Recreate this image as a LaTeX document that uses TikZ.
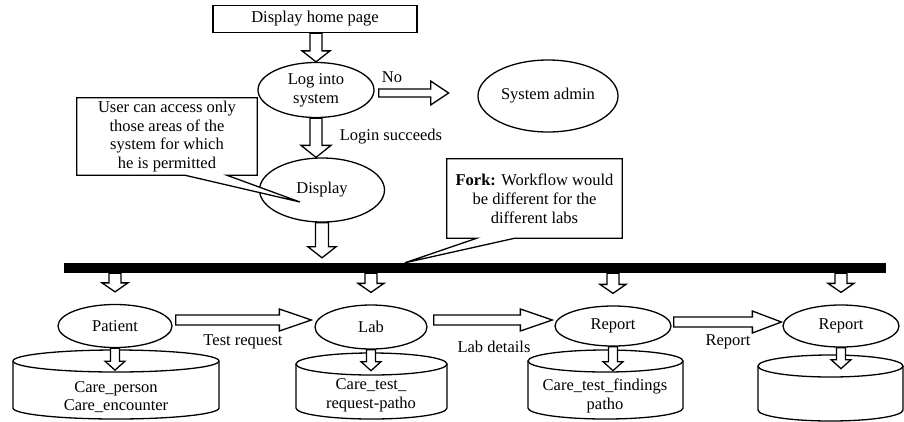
\documentclass[tikz,border=0pt]{standalone}
\usepackage{fontspec}
\setmainfont{Liberation Serif}
\usetikzlibrary{shapes.geometric,calc}

% hollow block arrows: start, tip, shaft half width, head half width, head length
\newcommand\blkdown[5]{%
  \draw[blockarrow] ($(#1)+(-#3,0)$) -- ($(#2)+(-#3,-#5)$) -- ($(#2)+(-#4,-#5)$) -- (#2)
    -- ($(#2)+(#4,-#5)$) -- ($(#2)+(#3,-#5)$) -- ($(#1)+(#3,0)$) -- cycle;}
\newcommand\blkright[5]{%
  \draw[blockarrow] ($(#1)+(0,-#3)$) -- ($(#2)+(-#5,-#3)$) -- ($(#2)+(-#5,-#4)$) -- (#2)
    -- ($(#2)+(-#5,#4)$) -- ($(#2)+(-#5,#3)$) -- ($(#1)+(0,#3)$) -- cycle;}
% data store drum: left, right, middle, top centre, bottom centre, x radius, y radius
\newcommand\drum[7]{%
  \draw[outline, fill=white] (#1,#4) -- (#1,#5)
    arc[start angle=180, end angle=360, x radius=#6pt, y radius=#7pt] -- (#2,#4);
  \draw[outline, fill=white] (#3,#4) ellipse[x radius=#6pt, y radius=#7pt];}

\tikzset{
  every node/.style={font=\fontsize{16.5}{18.8}\selectfont},
  outline/.style={line width=1.3pt, line join=miter},
  blockarrow/.style={outline, fill=white},
  oval/.style={outline, draw, fill=white, ellipse, inner sep=0pt, align=center},
  boxed/.style={outline, draw, fill=white, rectangle, inner sep=0pt, align=center},
  notebox/.style={fill=white, rectangle, inner sep=0pt, align=center},
  plain/.style={inner sep=0pt, align=center},
}

\begin{document}
\begin{tikzpicture}[x=1pt, y=-1pt]
\useasboundingbox[fill=white] (0,0) rectangle (904,421);

% data stores
\drum{13}{219}{116}{361}{408}{103}{11}
\drum{296}{447}{371.5}{364}{408}{75.5}{11}
\drum{528}{683}{605.5}{361}{408}{77.5}{11}
\drum{758}{903}{830.5}{366}{410}{72.5}{11}
\node[plain] (storeA) at (116,397) {Care\_person\\Care\_encounter};
\node[plain] (storeB) at (371,395) {Care\_test\_\\request-patho};
\node[plain] (storeC) at (605,396) {Care\_test\_findings\\patho};

% upper flow
\node[boxed, minimum width=204pt, minimum height=27pt] (home) at (315,19) {Display home page};
\node[oval, minimum width=116pt, minimum height=55pt] (login) at (316,90) {Log into\\system};
\node[oval, minimum width=140pt, minimum height=72pt] (admin) at (548,96) {System admin};
\node[oval, minimum width=125pt, minimum height=64pt] (display) at (322,190) {Display};

% fork bar
\node[fill=black, minimum width=822pt, minimum height=10pt, inner sep=0pt] (bar) at (475,268) {};

% lower flow
\node[oval, minimum width=114pt, minimum height=43pt] (patient) at (115,326) {Patient};
\node[oval, minimum width=112pt, minimum height=44pt] (lab) at (371,327) {Lab};
\node[oval, minimum width=116pt, minimum height=40pt] (repA) at (613,326) {Report};
\node[oval, minimum width=116pt, minimum height=42pt] (repB) at (841,326) {Report};

% labels
\node[plain] (lblNo) at (392,77) {No};
\node[plain] (lblLogin) at (391,137) {Login succeeds};
\node[plain] (lblTest) at (243,342) {Test request};
\node[plain] (lblLab) at (494,347) {Lab details};
\node[plain] (lblRep) at (728,342) {Report};

% arrows of the upper flow
\coordinate (t1) at (home.south -| login.north);
\blkdown{t1}{login.north}{6}{14}{11}
\coordinate (t2s) at (login.south);
\coordinate (t2e) at (login.south |- display.north);
\blkdown{t2s}{t2e}{6}{15}{12}
\coordinate (t3s) at (display.south);
\coordinate (t3e) at ($(display.south |- bar.north)+(0,-5)$);
\blkdown{t3s}{t3e}{6.5}{14}{11}
\coordinate (noS) at ($(login.east)+(4,3)$);
\coordinate (noE) at ($(noS)+(70,0)$);
\blkright{noS}{noE}{4}{12}{18}

% arrows from the fork bar
\foreach \n in {patient, lab, repA, repB}{
  \coordinate (fs) at (bar.south -| \n.north);
  \coordinate (fe) at ($(\n.north)+(0,-12)$);
  \blkdown{fs}{fe}{6}{13}{9}
}
% arrows into the data stores
\foreach \n/\d in {patient/22, lab/21, repA/24, repB/21}{
  \coordinate (ds) at (\n.south);
  \coordinate (de) at ($(\n.south)+(0,\d)$);
  \blkdown{ds}{de}{4.5}{10}{9}
}

% arrows between the lower steps
\coordinate (h1s) at ($(patient.east)+(3,-6)$);
\coordinate (h1e) at ($(lab.west)+(-3,-7)$);
\blkright{h1s}{h1e}{5}{11}{32}
\coordinate (h2s) at ($(lab.east)+(6,-7)$);
\coordinate (h2e) at ($(repA.west)+(-2,-6)$);
\blkright{h2s}{h2e}{5}{11}{32}
\coordinate (h3s) at ($(repA.east)+(2,-4)$);
\coordinate (h3e) at ($(repB.west)+(-1,-4)$);
\blkright{h3s}{h3e}{5}{11}{29}

% callouts
\node[notebox, minimum width=180pt, minimum height=77pt] (noteA) at (167,136.5)
  {User can access only\\those areas of the\\system for which\\he is permitted};
\coordinate (qa1) at ($(noteA.south west)+(108,0)$);
\coordinate (qa2) at ($(noteA.south west)+(150,0)$);
\coordinate (tipA) at (300,202);
\draw[outline, fill=white] (noteA.south west) -- (noteA.north west) -- (noteA.north east)
  -- (noteA.south east) -- (qa2) -- (tipA) -- (qa1) -- cycle;
\node[plain] at (noteA) {User can access only\\those areas of the\\system for which\\he is permitted};

\node[notebox, minimum width=175pt, minimum height=79pt] (noteB) at (534.5,198.5)
  {\textbf{Fork:} Workflow would\\be different for the\\different labs};
\coordinate (qb1) at ($(noteB.south west)+(30,0)$);
\coordinate (qb2) at ($(noteB.south west)+(68,0)$);
\coordinate (tipB) at ($(bar.north west)+(341,0)$);
\draw[outline, fill=white] (noteB.south west) -- (noteB.north west) -- (noteB.north east)
  -- (noteB.south east) -- (qb2) -- (tipB) -- (qb1) -- cycle;
\node[plain] at (noteB) {\textbf{Fork:} Workflow would\\be different for the\\different labs};
\end{tikzpicture}
\end{document}
